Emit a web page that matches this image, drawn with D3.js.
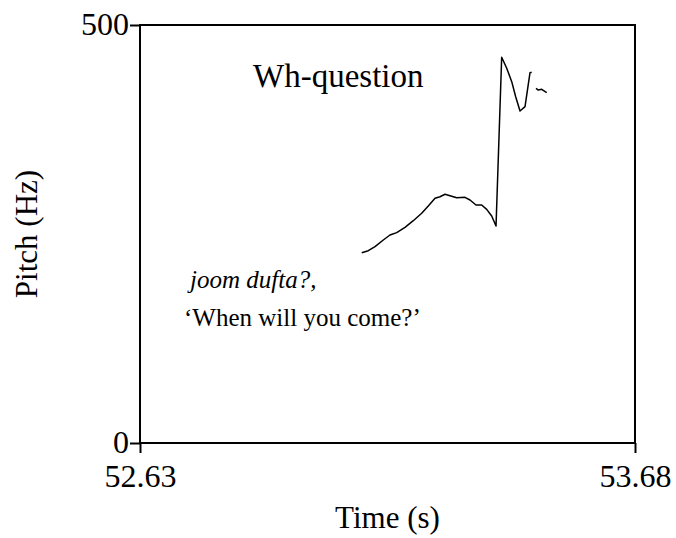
<!DOCTYPE html>
<html>
<head>
<meta charset="utf-8">
<script src="https://cdn.jsdelivr.net/npm/d3@7"></script>
<style>
  body { margin: 0; background: #fff; }
  svg text { font-family: "Liberation Serif", "Times New Roman", Times, serif; fill: #000; }
</style>
</head>
<body>
<div id="chart"></div>
<script>
// pitch track (time in s, pitch in Hz); null = unvoiced gap
const times = [53.1003, 53.1143, 53.1285, 53.1461, 53.1603, 53.1745, 53.1921, 53.2097,
  53.2275, 53.2415, 53.2558, 53.2664, 53.2770, 53.2876, 53.3018, 53.3194, 53.3300,
  53.3427, 53.3548, 53.3654, 53.3760, 53.3852, 53.3972, 53.4079, 53.4185, 53.4269,
  53.4361, 53.4467, 53.4573, 53.4609, 53.4650, 53.4700, 53.4749, 53.4821, 53.4927];
const pitch = [227.6, 230.0, 234.8, 242.8, 248.8, 251.6, 258.0, 265.9,
  274.8, 283.5, 292.7, 294.6, 297.5, 295.8, 293.4, 293.9, 290.7,
  284.7, 284.7, 279.5, 271.5, 259.6, 461.4, 448.2, 432.2, 414.2,
  397.1, 402.3, 443.0, 443.4, null, 424.3, 422.2, 423.1, 419.1];
const track = times.map((t, i) => ({ t: t, f: pitch[i] }));

const xDomain = [52.63, 53.68];
const yDomain = [0, 500];
const xTicks = [52.63, 53.68];
const yTicks = [0, 500];

const serif = "'Liberation Serif', 'Times New Roman', serif";
const width = 676, height = 538;
const margin = { left: 140, right: 41, top: 25, bottom: 95 };

const svg = d3.select("#chart").append("svg")
  .attr("width", width)
  .attr("height", height);

const x = d3.scaleLinear().domain(xDomain).range([margin.left, width - margin.right]);
const y = d3.scaleLinear().domain(yDomain).range([height - margin.bottom, margin.top]);

// frame
svg.append("rect")
  .attr("x", x(xDomain[0]))
  .attr("y", y(yDomain[1]))
  .attr("width", x(xDomain[1]) - x(xDomain[0]))
  .attr("height", y(yDomain[0]) - y(yDomain[1]))
  .attr("fill", "none")
  .attr("stroke", "#000")
  .attr("stroke-width", 2);

const xAxis = svg.append("g")
  .attr("transform", `translate(0, ${y(yDomain[0])})`)
  .call(d3.axisBottom(x).tickValues(xTicks).tickFormat(d3.format(".2f")).tickSize(10).tickPadding(11));

const yAxis = svg.append("g")
  .attr("transform", `translate(${x(xDomain[0])}, 0)`)
  .call(d3.axisLeft(y).tickValues(yTicks).tickFormat(d3.format("d")).tickSize(10).tickPadding(1));

[xAxis, yAxis].forEach(g => {
  g.attr("font-family", serif);
  g.select(".domain").remove();
  g.selectAll(".tick line").attr("stroke", "#000").attr("stroke-width", 2);
  g.selectAll(".tick text")
    .attr("font-family", serif)
    .attr("font-size", 32)
    .attr("fill", "#000");
});
yAxis.selectAll(".tick text").attr("dy", "0.3em");

// pitch curve
const line = d3.line()
  .defined(d => d.f !== null)
  .x(d => x(d.t))
  .y(d => y(d.f));

svg.append("path")
  .datum(track)
  .attr("d", line)
  .attr("fill", "none")
  .attr("stroke", "#000")
  .attr("stroke-width", 1.5)
  .attr("stroke-linejoin", "round");

// labels
svg.append("text")
  .attr("x", (x(xDomain[0]) + x(xDomain[1])) / 2)
  .attr("y", 528)
  .attr("text-anchor", "middle")
  .attr("font-family", serif)
  .attr("font-size", 31)
  .text("Time (s)");

svg.append("text")
  .attr("transform", `translate(37, ${(y(0) + y(500)) / 2}) rotate(-90)`)
  .attr("text-anchor", "middle")
  .attr("font-family", serif)
  .attr("font-size", 31)
  .text("Pitch (Hz)");

svg.append("text")
  .attr("x", 253)
  .attr("y", 87)
  .attr("font-family", serif)
  .attr("font-size", 33)
  .text("Wh-question");

svg.append("text")
  .attr("x", 190)
  .attr("y", 288)
  .attr("font-family", serif)
  .attr("font-size", 25)
  .attr("font-style", "italic")
  .text("joom dufta?,");

svg.append("text")
  .attr("x", 184)
  .attr("y", 326)
  .attr("font-family", serif)
  .attr("font-size", 25)
  .text("\u2018When will you come?\u2019");
</script>
</body>
</html>
